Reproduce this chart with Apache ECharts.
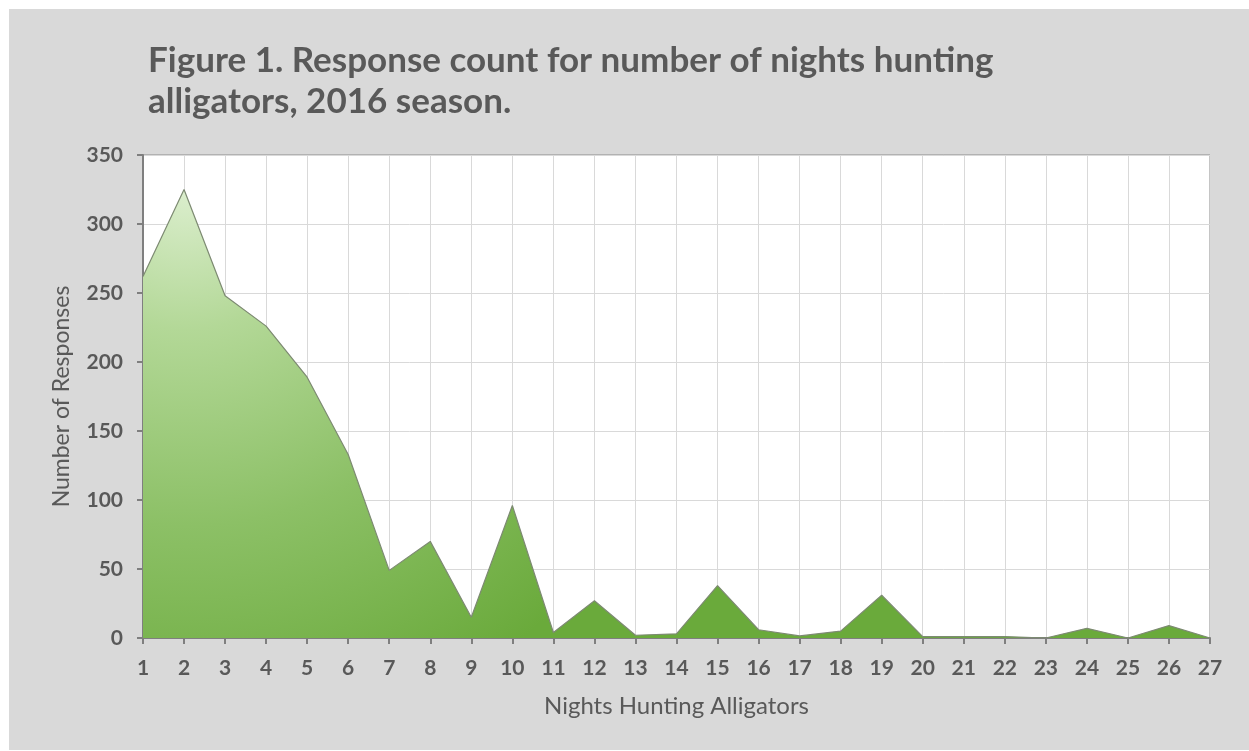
<!DOCTYPE html>
<html>
<head>
<meta charset="utf-8">
<script src="https://cdn.jsdelivr.net/npm/echarts@6/dist/echarts.min.js"></script>
<style>
html,body{margin:0;padding:0;background:#ffffff;}
#chart{width:1249px;height:751px;}
</style>
</head>
<body>
<div id="chart"></div>
<script>
const nights = ['1','2','3','4','5','6','7','8','9','10','11','12','13','14','15','16','17','18','19','20','21','22','23','24','25','26','27'];
const responses = [262, 325, 248, 226, 189, 133, 49, 70, 15, 96, 4, 27, 2, 3, 38, 6, 1.5, 5, 31, 1, 1, 1, 0, 7, 0, 9, 0];
const yTicks = { min: 0, max: 350, interval: 50 };
const titleLines = ['Figure 1. Response count for number of nights hunting', 'alligators, 2016 season.'];
const xName = 'Nights Hunting Alligators';
const yName = 'Number of Responses';

const textColor = '#595959';
const chart = echarts.init(document.getElementById('chart'), null, { renderer: 'canvas' });
chart.setOption({
  animation: false,
  backgroundColor: '#ffffff',
  graphic: [
    { type: 'rect', z: -10, shape: { x: 9, y: 9, width: 1240, height: 741 }, style: { fill: '#d9d9d9' } }
  ],
  title: {
    text: titleLines.join('\n'),
    left: 143,
    top: 35,
    textStyle: {
      fontFamily: 'Lato',
      fontWeight: 'bold',
      fontSize: 35,
      lineHeight: 41,
      color: textColor
    }
  },
  grid: {
    left: 143, right: 39, top: 155, bottom: 113,
    show: true, borderColor: '#8a8a8a', borderWidth: 1, backgroundColor: '#ffffff'
  },
  xAxis: {
    type: 'category',
    data: nights,
    boundaryGap: false,
    name: xName,
    nameLocation: 'middle',
    nameGap: 56,
    nameTextStyle: { fontFamily: 'Lato', fontSize: 24, color: textColor },
    axisLine: { lineStyle: { color: '#7f7f7f', width: 2 } },
    axisTick: { show: true, length: 6, alignWithLabel: true, lineStyle: { color: '#7f7f7f', width: 2 } },
    axisLabel: { fontFamily: 'Lato', fontWeight: 'bold', fontSize: 21, color: textColor, margin: 20, interval: 0 },
    splitLine: { show: true, lineStyle: { color: '#d9d9d9', width: 1 } }
  },
  yAxis: {
    type: 'value',
    min: yTicks.min, max: yTicks.max, interval: yTicks.interval,
    name: yName,
    nameLocation: 'middle',
    nameRotate: 90,
    nameGap: 70,
    nameTextStyle: { fontFamily: 'Lato', fontSize: 23, color: textColor },
    axisLine: { show: true, lineStyle: { color: '#7f7f7f', width: 2 } },
    axisTick: { show: true, length: 6, lineStyle: { color: '#7f7f7f', width: 2 } },
    axisLabel: { fontFamily: 'Lato', fontWeight: 'bold', fontSize: 21, color: textColor, margin: 20 },
    splitLine: { show: true, lineStyle: { color: '#d9d9d9', width: 1 } }
  },
  series: [{
    type: 'line',
    data: responses,
    showSymbol: false,
    lineStyle: { color: '#7d8a72', width: 1.2 },
    areaStyle: {
      opacity: 1,
      color: {
        type: 'radial', x: 0.04, y: 0.0, r: 1.25,
        colorStops: [
          { offset: 0, color: '#dbeecd' },
          { offset: 0.25, color: '#b3d897' },
          { offset: 0.6, color: '#8cc066' },
          { offset: 1, color: '#6aaa3b' }
        ]
      }
    }
  }]
});
</script>
</body>
</html>
